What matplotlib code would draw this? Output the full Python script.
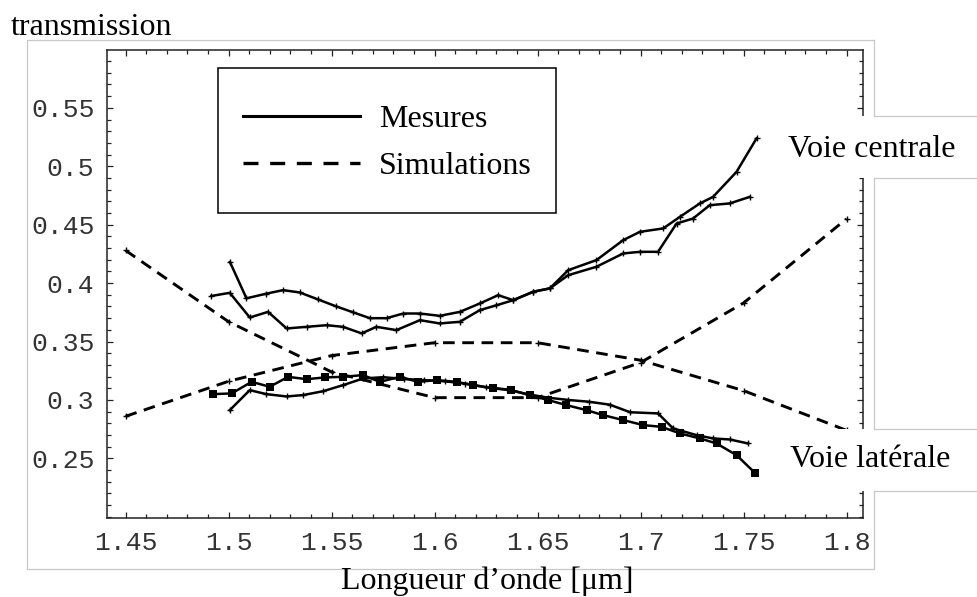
import matplotlib
matplotlib.use("Agg")
import matplotlib.pyplot as plt
from matplotlib.lines import Line2D
from matplotlib.patches import Rectangle
from matplotlib.ticker import FixedLocator, MultipleLocator, FuncFormatter
from matplotlib.font_manager import FontProperties

# ---------------- data ----------------
sim_wl = [1.45, 1.5, 1.55, 1.6, 1.65, 1.7, 1.75, 1.8]
sim_centrale = [0.428, 0.367, 0.324, 0.302, 0.302, 0.332, 0.383, 0.455]
sim_laterale = [0.286, 0.316, 0.338, 0.349, 0.349, 0.334, 0.308, 0.274]

mes_centrale_a_wl = [1.5007, 1.5087, 1.5184, 1.5265, 1.5346, 1.5435, 1.5524, 1.5605, 1.5686, 1.5767,
                     1.5848, 1.5929, 1.6025, 1.6123, 1.622, 1.6309, 1.6382, 1.6479, 1.656, 1.6649,
                     1.6786, 1.6916, 1.6997, 1.711, 1.7191, 1.7288, 1.7352, 1.7466, 1.7563]
mes_centrale_a = [0.418, 0.387, 0.391, 0.394, 0.392, 0.386, 0.380, 0.375, 0.370, 0.370,
                  0.374, 0.374, 0.372, 0.3754, 0.3826, 0.3897, 0.3854, 0.3926, 0.3955, 0.4111,
                  0.4197, 0.4368, 0.4439, 0.4468, 0.4567, 0.4682, 0.4738, 0.4952, 0.5238]

mes_centrale_b_wl = [1.4917, 1.5006, 1.5103, 1.5192, 1.5282, 1.5379, 1.5476, 1.5556, 1.5646, 1.5718,
                     1.5815, 1.5929, 1.6025, 1.6123, 1.622, 1.630, 1.6382, 1.6479, 1.656, 1.6649,
                     1.6786, 1.6916, 1.6997, 1.7085, 1.7175, 1.7255, 1.7336, 1.7433, 1.753]
mes_centrale_b = [0.389, 0.3917, 0.3706, 0.3754, 0.3612, 0.3626, 0.364, 0.3626, 0.357, 0.3626,
                  0.3598, 0.3683, 0.3655, 0.3669, 0.3769, 0.381, 0.3854, 0.3926, 0.3955, 0.4068,
                  0.414, 0.4254, 0.4268, 0.4268, 0.451, 0.4553, 0.4667, 0.4682, 0.4738]

mes_laterale_a_wl = [1.4925, 1.5015, 1.5112, 1.520, 1.5289, 1.5379, 1.5468, 1.5556, 1.5653, 1.5734,
                     1.5832, 1.592, 1.601, 1.6107, 1.6187, 1.6284, 1.6373, 1.6463, 1.655, 1.664,
                     1.6738, 1.6819, 1.6916, 1.7013, 1.7102, 1.7191, 1.7288, 1.7369, 1.7466, 1.7555]
mes_laterale_a = [0.305, 0.3056, 0.3155, 0.3113, 0.3198, 0.3178, 0.3193, 0.3198, 0.3213, 0.3155,
                  0.3198, 0.3155, 0.317, 0.3155, 0.3127, 0.3099, 0.3084, 0.3042, 0.300, 0.2956,
                  0.2913, 0.287, 0.2828, 0.2785, 0.277, 0.2714, 0.2671, 0.2628, 0.2528, 0.2377]

mes_laterale_b_wl = [1.5006, 1.5103, 1.5184, 1.5282, 1.5362, 1.5459, 1.5556, 1.5653, 1.575, 1.585,
                     1.595, 1.605, 1.615, 1.625, 1.635, 1.645, 1.655, 1.665, 1.675, 1.685,
                     1.695, 1.7085, 1.7158, 1.7272, 1.7352, 1.7433, 1.7522]
mes_laterale_b = [0.2913, 0.3084, 0.3050, 0.3030, 0.3042, 0.3075, 0.3127, 0.3184, 0.3195, 0.3180,
                  0.3170, 0.3160, 0.3140, 0.3110, 0.3090, 0.3050, 0.3020, 0.300, 0.2985, 0.296,
                  0.2895, 0.2885, 0.2757, 0.2699, 0.2671, 0.2662, 0.2628]

x_ticks = [1.45, 1.5, 1.55, 1.6, 1.65, 1.7, 1.75, 1.8]
y_ticks = [0.25, 0.3, 0.35, 0.4, 0.45, 0.5, 0.55]
legend_labels = ["Mesures", "Simulations"]

# ---------------- figure ----------------
W, H = 977, 597
fig = plt.figure(figsize=(W / 100, H / 100), dpi=100)
fig.patch.set_facecolor("white")

def fx(px):
    return px / W

def fy(py):
    return 1 - py / H

AX_L, AX_R, AX_T, AX_B = 107, 863, 50, 518
ax = fig.add_axes([fx(AX_L), fy(AX_B), (AX_R - AX_L) / W, (AX_B - AX_T) / H])
ax.set_xlim(1.441, 1.808)
ax.set_ylim(0.199, 0.5995)

def ax_frac(px, py):
    return ((px - AX_L) / (AX_R - AX_L), (AX_B - py) / (AX_B - AX_T))

dash = (0, (4.0, 2.6))
ax.plot(sim_wl, sim_centrale, color="black", lw=2.1, ls=dash, marker="+", ms=4, mew=1.0)
ax.plot(sim_wl, sim_laterale, color="black", lw=2.1, ls=dash, marker="+", ms=4, mew=1.0)

ax.plot(mes_centrale_a_wl, mes_centrale_a, color="black", lw=1.8, marker="+", ms=4, mew=1.0)
ax.plot(mes_centrale_b_wl, mes_centrale_b, color="black", lw=1.8, marker="+", ms=4, mew=1.0)
ax.plot(mes_laterale_a_wl, mes_laterale_a, color="black", lw=1.8, marker="s", ms=6, mew=0)
ax.plot(mes_laterale_b_wl, mes_laterale_b, color="black", lw=1.8, marker="+", ms=4, mew=1.0)

# ticks (Mathematica-like frame)
ax.xaxis.set_major_locator(FixedLocator(x_ticks))
ax.yaxis.set_major_locator(FixedLocator(y_ticks))
ax.xaxis.set_minor_locator(MultipleLocator(0.01))
ax.yaxis.set_minor_locator(MultipleLocator(0.01))
fmt = FuncFormatter(lambda v, p: f"{v:g}")
ax.xaxis.set_major_formatter(fmt)
ax.yaxis.set_major_formatter(fmt)
ax.tick_params(which="both", direction="in", top=True, right=True, width=0.9, color="#222222")
ax.tick_params(which="major", length=4.5)
ax.tick_params(which="minor", length=2.6)
ax.tick_params(axis="x", which="major", pad=9)
ax.tick_params(axis="y", which="major", pad=9)
for lab in ax.get_xticklabels() + ax.get_yticklabels():
    lab.set_fontfamily("Liberation Mono")
    lab.set_fontsize(19)
    lab.set_color("#333333")
for s in ax.spines.values():
    s.set_linewidth(1.1)
    s.set_color("#222222")

# legend: box drawn as a rectangle, entries placed inside it
serif = FontProperties(family="Liberation Serif", size=23)
bx0, by0 = ax_frac(218, 213)
bx1, by1 = ax_frac(556, 68)
ax.add_patch(Rectangle((bx0, by0), bx1 - bx0, by1 - by0, transform=ax.transAxes,
                       facecolor="white", edgecolor="black", lw=1.1, zorder=4))
handles = [Line2D([], [], color="black", lw=2.2),
           Line2D([], [], color="black", lw=2.4, ls=(0, (4.5, 3.5)))]
leg = ax.legend(handles, legend_labels, loc="upper left",
                bbox_to_anchor=ax_frac(218, 80),
                borderaxespad=0, prop=serif, handlelength=3.66, handletextpad=0.6,
                labelspacing=0.54, borderpad=0.78, frameon=False)
leg.set_zorder(5)

# outer gray frame of the picture, with the label boxes on the right
gray = "#c8c8c8"
def gline(xs, ys):
    fig.add_artist(Line2D([fx(v) for v in xs], [fy(v) for v in ys], color=gray, lw=0.9,
                          transform=fig.transFigure, zorder=6))

for (top, bot) in [(116, 178), (429, 491)]:
    fig.add_artist(Rectangle((fx(775), fy(bot)), (W - 775) / W, (bot - top) / H,
                             transform=fig.transFigure, facecolor="white", edgecolor="none", zorder=5))

gline([874, 27, 27, 874, 874], [40, 40, 569, 569, 491])
gline([874, 874], [40, 116])
gline([874, W], [116, 116])
gline([874, W], [178, 178])
gline([874, 874], [178, 429])
gline([874, W], [429, 429])
gline([874, W], [491, 491])

fig.text(fx(788), fy(157), "Voie centrale", fontproperties=serif, va="baseline", ha="left", zorder=7)
fig.text(fx(790), fy(467), "Voie latérale", fontproperties=serif, va="baseline", ha="left", zorder=7)
fig.text(fx(11), fy(35), "transmission", fontproperties=serif, va="baseline", ha="left", zorder=7)
fig.text(fx(487), fy(589), "Longueur d\u2019onde [\u03bcm]", fontproperties=serif, va="baseline",
         ha="center", zorder=7)

fig.savefig("out.png", dpi=100)
